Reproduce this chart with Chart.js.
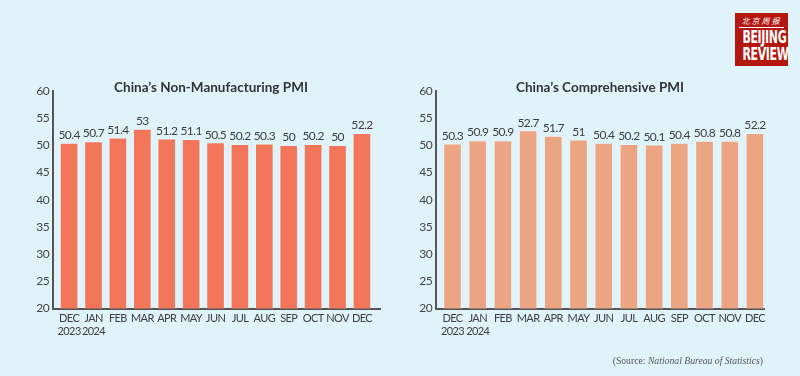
<!DOCTYPE html>
<html>
<head>
<meta charset="utf-8">
<script src="https://cdn.jsdelivr.net/npm/chart.js@4.4.1/dist/chart.umd.min.js"></script>
<style>
  html, body { margin: 0; padding: 0; }
  body { width: 800px; height: 376px; background: #e1f3fa; position: relative; overflow: hidden; font-family: Lato, "Open Sans", sans-serif; }
  .cw { position: absolute; top: 0; width: 400px; height: 376px; }
  .title { position: absolute; top: 79px; transform: translateX(-50%); white-space: nowrap; font: 700 13.5px Lato, sans-serif; color: #333; }
  .source { position: absolute; right: 37px; top: 355px; font: 9.7px "Liberation Serif", serif; color: #555; white-space: nowrap; }
  .logo { position: absolute; left: 735px; top: 13px; width: 53px; height: 53px; background: #b3170f; color: #fff; text-align: center; overflow: hidden; }
  .logo .cn { font: 8px "Noto Sans CJK SC", sans-serif; letter-spacing: 2px; margin-top: 3px; line-height: 9px; font-style: italic; }
  .logo .rule { height: 1px; background: #fff; margin: 2px 4px 1px 4px; }
  .logo .en { font: 700 17px "DejaVu Sans Condensed", "Liberation Sans", sans-serif; line-height: 17px; transform: scaleX(0.72); letter-spacing: -0.5px; }
</style>
</head>
<body>
<div class="cw" style="left:0"><canvas id="c1" width="400" height="376"></canvas></div>
<div class="cw" style="left:400px"><canvas id="c2" width="400" height="376"></canvas></div>
<div class="title" style="left:211px">China’s Non-Manufacturing PMI</div>
<div class="title" style="left:600px">China’s Comprehensive PMI</div>
<div class="source">(Source: <i>National Bureau of Statistics</i>)</div>
<div class="logo"><div class="cn">北京周报</div><div class="rule"></div><div class="en">BEIJING</div><div class="en">REVIEW</div></div>
<script>
const months = [['DEC', '2023'], ['JAN', '2024'], 'FEB', 'MAR', 'APR', 'MAY', 'JUN', 'JUL', 'AUG', 'SEP', 'OCT', 'NOV', 'DEC'];
const nonManufacturingPMI = [50.4, 50.7, 51.4, 53, 51.2, 51.1, 50.5, 50.2, 50.3, 50, 50.2, 50, 52.2];
const comprehensivePMI = [50.3, 50.9, 50.9, 52.7, 51.7, 51, 50.4, 50.2, 50.1, 50.4, 50.8, 50.8, 52.2];
const yMin = 20, yMax = 60, yStep = 5;
const FONT = 'Lato, sans-serif';

const tightText = {
  id: 'tightText',
  beforeDraw(chart) { chart.ctx.letterSpacing = '-0.6px'; }
};

const valueLabels = {
  id: 'valueLabels',
  afterDatasetsDraw(chart) {
    const ctx = chart.ctx;
    ctx.save();
    ctx.font = '12px ' + FONT;
    ctx.fillStyle = '#3d3d3d';
    ctx.textAlign = 'center';
    ctx.textBaseline = 'bottom';
    const ds = chart.data.datasets[0];
    chart.getDatasetMeta(0).data.forEach((bar, i) => {
      ctx.fillText(String(ds.data[i].y), bar.x, bar.y - 2);
    });
    ctx.restore();
  }
};

function makeChart(id, values, color, yWidth, xMin, xMax, padRight) {
  return new Chart(document.getElementById(id), {
    type: 'bar',
    data: {
      datasets: [{
        data: values.map((v, i) => ({ x: i, y: v })),
        backgroundColor: color,
        borderColor: 'rgba(255,255,255,0.25)',
        borderWidth: 1,
        barThickness: 18
      }]
    },
    options: {
      responsive: false,
      animation: false,
      devicePixelRatio: 1,
      layout: { padding: { top: 91, right: padRight, bottom: 0, left: 0 } },
      plugins: { legend: { display: false }, tooltip: { enabled: false } },
      scales: {
        x: {
          type: 'linear',
          offset: false,
          min: xMin,
          max: xMax,
          grid: { display: false, drawTicks: false },
          border: { display: true, color: '#555', width: 2 },
          afterFit(s) { s.height = 67.5; },
          afterBuildTicks(s) { s.ticks = s.ticks.filter(t => Number.isInteger(t.value) && t.value >= 0 && t.value < months.length); },
          ticks: {
            stepSize: 1,
            includeBounds: false,
            autoSkip: false,
            maxRotation: 0,
            padding: 4,
            color: '#3d3d3d',
            font: { family: FONT, size: 11, lineHeight: 1.15 },
            callback: v => months[v]
          }
        },
        y: {
          min: yMin,
          max: yMax,
          grid: { display: false, drawTicks: false },
          border: { display: true, color: '#555', width: 2 },
          afterFit(s) { s.width = yWidth; },
          ticks: {
            stepSize: yStep,
            padding: 4,
            color: '#444',
            font: { family: FONT, size: 12 }
          }
        }
      }
    },
    plugins: [tightText, valueLabels]
  });
}

makeChart('c1', nonManufacturingPMI, '#f3765a', 53, -0.66, 12.74, 20);
makeChart('c2', comprehensivePMI, '#eca582', 36, -0.655, 12.36, 36);
</script>
</body>
</html>
